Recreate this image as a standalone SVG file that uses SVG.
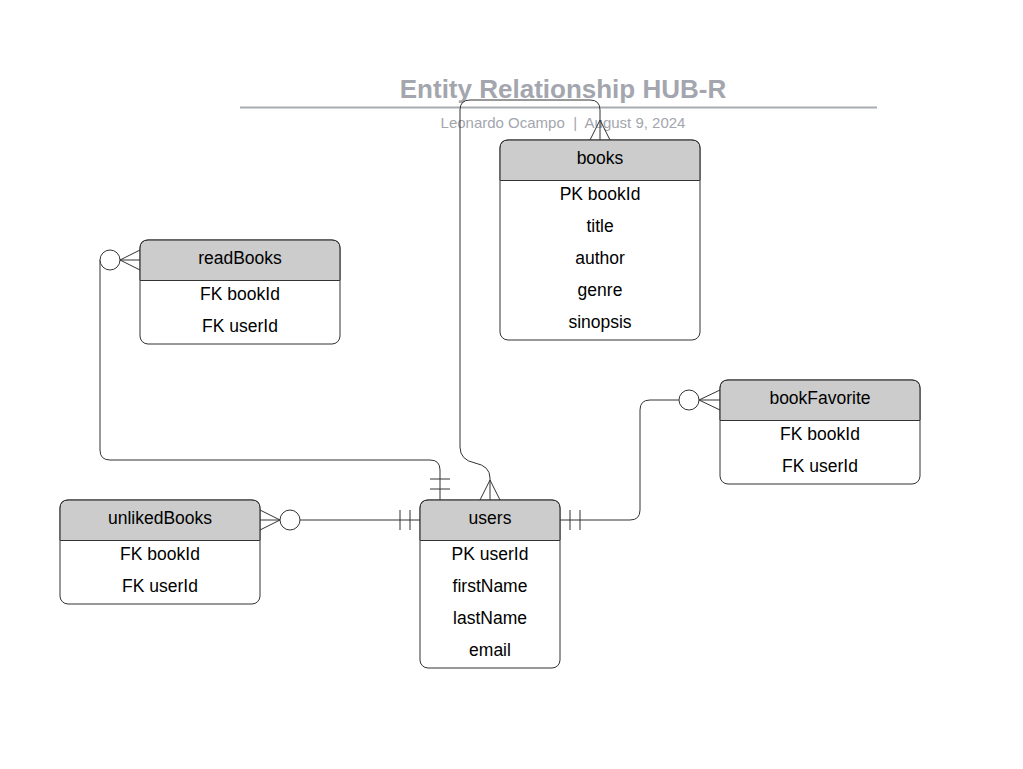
<svg xmlns="http://www.w3.org/2000/svg" width="1023" height="769" viewBox="0 0 1023 769">
<style>
text{font-family:"Liberation Sans",Arial,sans-serif;}
.t{font-size:26px;font-weight:bold;fill:#a3a6ae;text-anchor:middle;}
.s{font-size:15px;fill:#a3a6ae;text-anchor:middle;white-space:pre;}
.box{fill:#ffffff;stroke:#333333;stroke-width:1;}
.hd{fill:#cccccc;}
.div{stroke:#333333;stroke-width:1;}
.lbl{font-size:17.5px;fill:#000000;text-anchor:middle;}
.c{fill:none;stroke:#333333;stroke-width:1;}
.o{fill:#ffffff;stroke:#333333;stroke-width:1;}
</style>
<rect width="1023" height="769" fill="#ffffff"/>
<g id="title">
<text class="t" x="563" y="98">Entity Relationship HUB-R</text>
<line x1="240" y1="107.5" x2="877" y2="107.5" stroke="#a9abb3" stroke-width="2"/>
<text class="s" x="563" y="128" xml:space="preserve">Leonardo Ocampo  |  August 9, 2024</text>
</g>
<g id="connectors">
<path class="c" d="M600,120 L600,110 Q600,100 590,100 L470,100 Q460,100 460,110 L460,447 Q460,460 475,463 Q490,466 490,478 L490,500"/>
<path class="c" d="M590,140 L600,120 L610,140 M600,120 L600,140"/>
<path class="c" d="M480,500 L490,480 L500,500"/>
<path class="c" d="M100,260 L100,450 Q100,460 110,460 L430,460 Q440,460 440,470 L440,500"/>
<circle class="o" cx="110" cy="260" r="10"/>
<path class="c" d="M140,250 L120,260 L140,270 M120,260 L140,260"/>
<path class="c" d="M430,479 L450,479 M430,489 L450,489"/>
<path class="c" d="M300,520 L420,520"/>
<circle class="o" cx="290" cy="520" r="10"/>
<path class="c" d="M260,510 L280,520 L260,530 M260,520 L280,520"/>
<path class="c" d="M400,510 L400,530 M410,510 L410,530"/>
<path class="c" d="M560,520 L630,520 Q640,520 640,510 L640,410 Q640,400 650,400 L679,400"/>
<path class="c" d="M570,510 L570,530 M580,510 L580,530"/>
<circle class="o" cx="689" cy="400" r="10"/>
<path class="c" d="M720,390 L699,400 L720,410 M699,400 L720,400"/>
</g>
<g id="books">
<rect class="box" x="500" y="140" width="200" height="200" rx="8"/>
<path class="hd" d="M508.5,140.5 L691.5,140.5 Q699.5,140.5 699.5,148.5 L699.5,180 L500.5,180 L500.5,148.5 Q500.5,140.5 508.5,140.5 Z"/>
<path class="c" d="M500,180 L500,148 Q500,140 508,140 L692,140 Q700,140 700,148 L700,180"/>
<line class="div" x1="500" y1="180.5" x2="700" y2="180.5"/>
<text class="lbl" x="600" y="164">books</text>
<text class="lbl" x="600" y="200">PK bookId</text>
<text class="lbl" x="600" y="232">title</text>
<text class="lbl" x="600" y="264">author</text>
<text class="lbl" x="600" y="296">genre</text>
<text class="lbl" x="600" y="328">sinopsis</text>
</g>
<g id="readBooks">
<rect class="box" x="140" y="240" width="200" height="104" rx="8"/>
<path class="hd" d="M148.5,240.5 L331.5,240.5 Q339.5,240.5 339.5,248.5 L339.5,280 L140.5,280 L140.5,248.5 Q140.5,240.5 148.5,240.5 Z"/>
<path class="c" d="M140,280 L140,248 Q140,240 148,240 L332,240 Q340,240 340,248 L340,280"/>
<line class="div" x1="140" y1="280.5" x2="340" y2="280.5"/>
<text class="lbl" x="240" y="264">readBooks</text>
<text class="lbl" x="240" y="300">FK bookId</text>
<text class="lbl" x="240" y="332">FK userId</text>
</g>
<g id="bookFavorite">
<rect class="box" x="720" y="380" width="200" height="104" rx="8"/>
<path class="hd" d="M728.5,380.5 L911.5,380.5 Q919.5,380.5 919.5,388.5 L919.5,420 L720.5,420 L720.5,388.5 Q720.5,380.5 728.5,380.5 Z"/>
<path class="c" d="M720,420 L720,388 Q720,380 728,380 L912,380 Q920,380 920,388 L920,420"/>
<line class="div" x1="720" y1="420.5" x2="920" y2="420.5"/>
<text class="lbl" x="820" y="404">bookFavorite</text>
<text class="lbl" x="820" y="440">FK bookId</text>
<text class="lbl" x="820" y="472">FK userId</text>
</g>
<g id="unlikedBooks">
<rect class="box" x="60" y="500" width="200" height="104" rx="8"/>
<path class="hd" d="M68.5,500.5 L251.5,500.5 Q259.5,500.5 259.5,508.5 L259.5,540 L60.5,540 L60.5,508.5 Q60.5,500.5 68.5,500.5 Z"/>
<path class="c" d="M60,540 L60,508 Q60,500 68,500 L252,500 Q260,500 260,508 L260,540"/>
<line class="div" x1="60" y1="540.5" x2="260" y2="540.5"/>
<text class="lbl" x="160" y="524">unlikedBooks</text>
<text class="lbl" x="160" y="560">FK bookId</text>
<text class="lbl" x="160" y="592">FK userId</text>
</g>
<g id="users">
<rect class="box" x="420" y="500" width="140" height="168" rx="8"/>
<path class="hd" d="M428.5,500.5 L551.5,500.5 Q559.5,500.5 559.5,508.5 L559.5,540 L420.5,540 L420.5,508.5 Q420.5,500.5 428.5,500.5 Z"/>
<path class="c" d="M420,540 L420,508 Q420,500 428,500 L552,500 Q560,500 560,508 L560,540"/>
<line class="div" x1="420" y1="540.5" x2="560" y2="540.5"/>
<text class="lbl" x="490" y="524">users</text>
<text class="lbl" x="490" y="560">PK userId</text>
<text class="lbl" x="490" y="592">firstName</text>
<text class="lbl" x="490" y="624">lastName</text>
<text class="lbl" x="490" y="656">email</text>
</g>
</svg>
